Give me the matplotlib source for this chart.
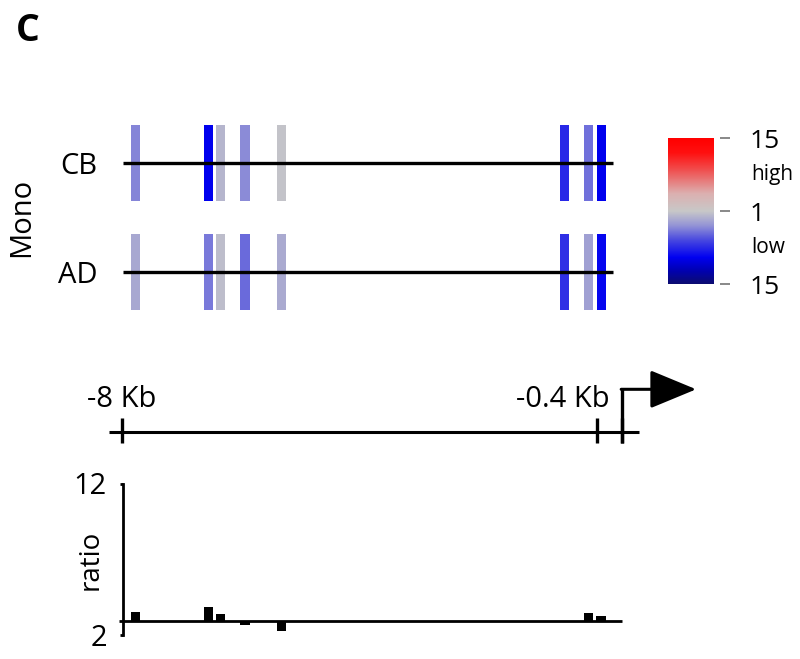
import numpy as np
import matplotlib
matplotlib.use("Agg")
import matplotlib.pyplot as plt
from matplotlib.colors import LinearSegmentedColormap, Normalize
from matplotlib import transforms

plt.rcParams['font.family'] = ['Open Sans', 'DejaVu Sans']

# ---------------- data ----------------
samples = ["CB", "AD"]
site_kb = [-7.78, -6.61, -6.42, -6.03, -5.45, -0.92, -0.54, -0.34]   # site positions (kb from TSS)
cb_fold = [-1.9, -5.7, -1.23, -1.82, -1.05, -3.9, -2.2, -5.7]       # signed fold (neg = low)
ad_fold = [-1.4, -2.07, -1.13, -2.3, -1.35, -3.7, -1.52, -5.4]
ratio = [3.5, 3.85, 3.35, 2.65, 2.25, 2.9, 3.45, 3.2]
ratio_base = 2.9
ratio_ticks = [2, 12]
cbar_ticks = [-1, 0, 1]
cbar_ticklabels = ["15", "1", "15"]
scale_ticks = [-8, -0.4, 0]
scale_labels = ["-8 Kb", "-0.4 Kb"]
region_start, region_end = -7.974, -0.144
scale_start, scale_end = -8.21, 0.27
arrow_end = 1.18

# ---------------- style ----------------
cmap = LinearSegmentedColormap.from_list("lowhigh", [
    (0.00, "#0c0c70"), (0.10, "#0000b8"), (0.18, "#0000f0"), (0.30, "#4848e0"),
    (0.40, "#9494d6"), (0.50, "#c8c8c8"), (0.62, "#dcb0b0"), (0.78, "#f05050"),
    (0.90, "#ff1010"), (1.00, "#ff0000")])
norm = Normalize(-1, 1)


def signed_log(f):
    f = np.asarray(f, float)
    return np.sign(f) * np.log(np.abs(f)) / np.log(15)


W, H = 800, 659
fig = plt.figure(figsize=(8, 6.59), dpi=100)


def box(x0, y0, x1, y1):
    return [x0 / W, 1 - y1 / H, (x1 - x0) / W, (y1 - y0) / H]


XLIM = (-8.347, 1.561)

# ---------------- tracks ----------------
ax_t = fig.add_axes(box(100, 110, 720, 330))
ax_t.set_xlim(XLIM)
ax_t.set_ylim(1.529, -0.489)
for i, folds in enumerate([cb_fold, ad_fold]):
    colors = cmap(norm(signed_log(folds)))
    ax_t.bar(site_kb, 0.70, width=0.145, bottom=i - 0.35, color=colors, zorder=2)
    ax_t.hlines(i, region_start, region_end, color="black", lw=2.4, zorder=3)
ax_t.set_yticks(range(len(samples)), samples)
ax_t.tick_params(axis="y", length=0, pad=2, labelsize=21)
ax_t.set_xticks([])
for s in ax_t.spines.values():
    s.set_visible(False)
ax_t.set_ylabel("Mono", fontsize=21, va="center")
ax_t.yaxis.set_label_coords(-0.1258, 0.5136)

# ---------------- colorbar ----------------
cax = fig.add_axes(box(668.3, 138.3, 714, 284))
cax.imshow(np.linspace(-1, 1, 256)[:, None], cmap=cmap, norm=norm, aspect="auto",
           origin="lower", extent=[0, 1, -1, 1])
cax.set_xticks([])
cax.yaxis.tick_right()
cax.set_yticks(cbar_ticks, cbar_ticklabels)
for s in cax.spines.values():
    s.set_visible(False)
cax.spines["right"].set_position(("outward", 4.3))
cax.tick_params(axis="y", length=7.2, width=1.4, color="#888888", pad=14, labelsize=19)
tr = transforms.blended_transform_factory(cax.transAxes, cax.transData)
cax.text(1.81, 0.5, "high", transform=tr, ha="left", va="center", fontsize=15)
cax.text(1.81, -0.5, "low", transform=tr, ha="left", va="center", fontsize=15)

# ---------------- scale ----------------
ax_s = fig.add_axes(box(100, 360, 720, 460))
ax_s.set_xlim(XLIM)
ax_s.set_ylim(-28.3, 71.7)
ax_s.axis("off")
ax_s.hlines(0, scale_start, scale_end, color="black", lw=2.2)
ax_s.vlines(scale_ticks, -11, 13.4, color="black", lw=2.4)
ax_s.text(scale_ticks[0], 25, scale_labels[0], ha="center", va="baseline", fontsize=21)
ax_s.text(scale_ticks[1] + 0.2, 25, scale_labels[1], ha="right", va="baseline", fontsize=21)
ax_s.plot([scale_ticks[2], scale_ticks[2]], [-11, 42.4], color="black", lw=2.4,
          solid_capstyle="butt")
ax_s.annotate("", xy=(arrow_end, 42.4), xytext=(scale_ticks[2] - 0.018, 42.4),
              arrowprops=dict(arrowstyle="-|>,head_length=2.9,head_width=1.2",
                              mutation_scale=10, lw=2.2, color="black",
                              shrinkA=0, shrinkB=0))

# ---------------- ratio bars ----------------
ax_b = fig.add_axes(box(100, 470, 720, 650))
ax_b.set_xlim(XLIM)
ax_b.set_ylim(0.974, 12.894)
ax_b.bar(site_kb, np.array(ratio) - ratio_base, bottom=ratio_base, width=0.15,
         color="black", zorder=2)
ax_b.hlines(ratio_base, -8.05, 0.0, color="black", lw=2.0, zorder=3)
for k in ["top", "right", "bottom"]:
    ax_b.spines[k].set_visible(False)
ax_b.spines["left"].set_position(("data", -7.98))
ax_b.spines["left"].set_bounds(ratio_ticks[0], ratio_ticks[1])
ax_b.spines["left"].set_linewidth(2.0)
ax_b.set_yticks(ratio_ticks)
ax_b.tick_params(axis="y", direction="out", length=2.5, width=2, pad=9, labelsize=21)
ax_b.set_xticks([])
ax_b.set_ylabel("ratio", fontsize=20, va="center")
ax_b.yaxis.set_label_coords(-0.0145, 0.5)

fig.text(16 / W, 1 - 41 / H, "C", fontsize=27, fontweight="bold", ha="left", va="baseline")

fig.savefig("out.png", dpi=100)
